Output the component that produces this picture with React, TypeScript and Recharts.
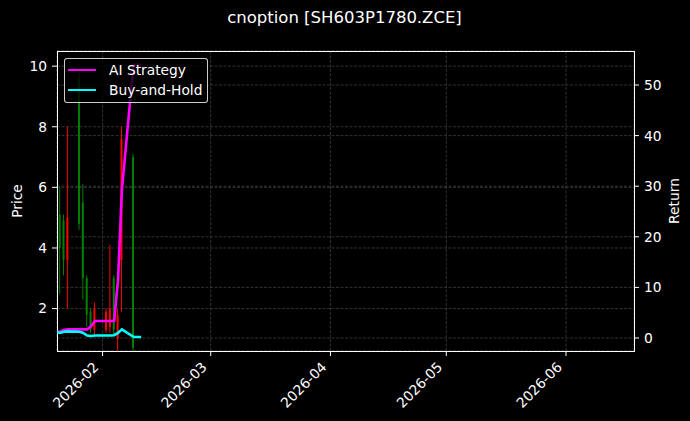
import React from 'react';
import {
  ComposedChart,
  Bar,
  Line,
  XAxis,
  YAxis,
  CartesianGrid,
  Legend,
  ReferenceArea,
} from 'recharts';

// trading days and daily OHLC of the option (null = no candle drawn)
const tradeDates = [
  '2026-01-20', '2026-01-21', '2026-01-22', '2026-01-23', '2026-01-26',
  '2026-01-27', '2026-01-28', '2026-01-29', '2026-01-30', '2026-02-02',
  '2026-02-03', '2026-02-04', '2026-02-05', '2026-02-06', '2026-02-09',
  '2026-02-10', '2026-02-11',
];
const opens = [null, 5.1, 4.9, 3.6, 9.6, 5.5, 3.0, 1.9, 1.3, 1.3, 1.4, 3.0, 1.0, 3.6, 7.0, null, null];
const highs = [null, 6.0, 5.1, 8.0, 10.0, 6.1, 3.1, 2.0, 2.2, 2.0, 4.1, 3.1, 2.0, 8.0, 7.1, null, null];
const lows = [null, 2.5, 3.1, 2.0, 4.6, 2.3, 1.4, 1.2, 1.1, 1.2, 1.2, 1.1, 0.6, 1.9, 0.5, null, null];
const closes = [null, 4.0, 3.6, 5.0, 4.8, 3.0, 1.8, 1.3, 2.0, 1.9, 2.0, 1.3, 1.8, 7.6, 0.7, null, null];

// cumulative return series (right axis)
const aiStrategy = [1.1, 1.3, 1.6, 1.7, 1.7, 1.7, 1.7, 2.3, 3.35, 3.35, 3.35, 3.35, 11.5, 29.2, 54.0, 54.0, 54.0];
const buyAndHold = [1.2, 1.0, 1.25, 1.3, 1.25, 1.0, 0.5, 0.4, 0.5, 0.5, 0.5, 0.55, 1.0, 1.7, 0.25, 0.2, 0.2];

const monthTicks = ['2026-02-01', '2026-03-01', '2026-04-01', '2026-05-01', '2026-06-01'];
const priceTicks = [2, 4, 6, 8, 10];
const returnTicks = [0, 10, 20, 30, 40, 50];

const DAY = 86400000;
const toTime = (s: string) => Date.parse(s + 'T00:00:00Z');
const xDomain = [toTime('2026-01-20') + 0.2 * DAY, toTime('2026-06-18') + 0.6 * DAY];

const data = tradeDates.map((d, i) => ({
  t: toTime(d),
  range: highs[i] == null ? null : [lows[i], highs[i]],
  open: opens[i],
  high: highs[i],
  low: lows[i],
  close: closes[i],
  ai: aiStrategy[i],
  bh: buyAndHold[i],
}));

const FONT = '"DejaVu Sans", sans-serif';
const GRID = '#3d3d3d';

const Candle = (props: any) => {
  const { x, y, width, height, payload } = props;
  if (!payload || payload.high == null || !height) return null;
  const { open, close, high, low } = payload;
  const ppu = height / (high - low);
  const cx = x + width / 2;
  const top = y + (high - Math.max(open, close)) * ppu;
  const bottom = y + (high - Math.min(open, close)) * ppu;
  const color = close >= open ? '#ff0000' : '#008000';
  return (
    <g>
      <line x1={cx} x2={cx} y1={y} y2={y + height} stroke={color} strokeWidth={1} />
      <rect x={cx - 1} y={top} width={2} height={Math.max(bottom - top, 1)} fill={color} />
    </g>
  );
};

const DateTick = (props: any) => {
  const { x, y, payload } = props;
  const d = new Date(payload.value);
  const label = `${d.getUTCFullYear()}-${String(d.getUTCMonth() + 1).padStart(2, '0')}`;
  return (
    <g transform={`translate(${x - 10},${y + 3}) rotate(-45)`}>
      <text textAnchor="end" dy="0.71em" fill="#ffffff" fontSize={13.8} fontFamily={FONT}>
        {label}
      </text>
    </g>
  );
};

const AxisTitle = ({ viewBox, text, offsetX }: any) => {
  if (!viewBox) return null;
  const cx = viewBox.x + offsetX;
  const cy = viewBox.y + viewBox.height / 2;
  return (
    <text
      x={cx}
      y={cy}
      transform={`rotate(-90, ${cx}, ${cy})`}
      textAnchor="middle"
      dominantBaseline="central"
      fill="#ffffff"
      fontSize={13.8}
      fontFamily={FONT}
    >
      {text}
    </text>
  );
};

const LegendBox = ({ payload }: any) => (
  <div
    style={{
      background: 'rgba(0,0,0,0.8)',
      border: '1px solid rgba(255,255,255,0.8)',
      borderRadius: 3,
      padding: '1px 5px 2px 3px',
      fontFamily: FONT,
      fontSize: 13.8,
      color: '#ffffff',
    }}
  >
    {(payload || [])
      .filter((p: any) => p.type !== 'none')
      .map((p: any) => (
        <div key={p.value} style={{ display: 'flex', alignItems: 'center', height: 20 }}>
          <span style={{ display: 'inline-block', width: 28, height: 2.8, background: p.color, marginRight: 13 }} />
          <span>{p.value}</span>
        </div>
      ))}
  </div>
);

export default function App() {
  return (
    <div style={{ position: 'absolute', left: 0, top: 0, width: 690, height: 421, background: '#000000' }}>
      <div
        style={{
          position: 'absolute',
          left: 0,
          top: 10,
          width: 689,
          textAlign: 'center',
          color: '#ffffff',
          fontFamily: FONT,
          fontSize: 16.5,
          lineHeight: '16.5px',
        }}
      >
        cnoption [SH603P1780.ZCE]
      </div>
      <ComposedChart
        width={690}
        height={421}
        data={data}
        margin={{ top: 51, right: 0, bottom: 0, left: 0 }}
      >
        <CartesianGrid
          yAxisId="price"
          stroke={GRID}
          strokeWidth={0.8}
          strokeDasharray="3 1.5"
        />
        <CartesianGrid
          yAxisId="ret"
          vertical={false}
          stroke={GRID}
          strokeWidth={0.8}
          strokeDasharray="3 1.5"
        />
        <XAxis
          dataKey="t"
          type="number"
          domain={xDomain}
          allowDataOverflow
          ticks={monthTicks.map(toTime)}
          tick={<DateTick />}
          height={70}
          axisLine={false}
          tickLine={{ stroke: '#ffffff' }}
          tickSize={5}
          interval={0}
        />
        <YAxis
          yAxisId="price"
          orientation="left"
          type="number"
          domain={[0.6, 10.5]}
          allowDataOverflow
          ticks={priceTicks}
          width={57}
          axisLine={false}
          tickLine={{ stroke: '#ffffff' }}
          tickSize={5}
          tickMargin={5}
          tick={{ fill: '#ffffff', fontSize: 13.8, fontFamily: FONT }}
          label={<AxisTitle text="Price" offsetX={17} />}
        />
        <YAxis
          yAxisId="ret"
          orientation="right"
          type="number"
          domain={[-2.57, 56.72]}
          allowDataOverflow
          ticks={returnTicks}
          width={56}
          axisLine={false}
          tickLine={{ stroke: '#ffffff' }}
          tickSize={5}
          tickMargin={5}
          tick={{ fill: '#ffffff', fontSize: 13.8, fontFamily: FONT }}
          label={<AxisTitle text="Return" offsetX={40} />}
        />
        <Bar
          yAxisId="price"
          dataKey="range"
          barSize={3}
          shape={<Candle />}
          legendType="none"
          isAnimationActive={false}
        />
        <Line
          yAxisId="ret"
          type="linear"
          dataKey="ai"
          name="AI Strategy"
          stroke="#ff00ff"
          strokeWidth={2.6}
          dot={false}
          connectNulls
          isAnimationActive={false}
        />
        <Line
          yAxisId="ret"
          type="linear"
          dataKey="bh"
          name="Buy-and-Hold"
          stroke="#00ffff"
          strokeWidth={2.6}
          dot={false}
          connectNulls
          isAnimationActive={false}
        />
        <ReferenceArea
          yAxisId="price"
          x1={xDomain[0]}
          x2={xDomain[1]}
          y1={0.6}
          y2={10.5}
          fill="none"
          fillOpacity={0}
          stroke="#ffffff"
          strokeOpacity={1}
          strokeWidth={1}
          shapeRendering="crispEdges"
          ifOverflow="visible"
        />
        <Legend
          layout="vertical"
          align="center"
          verticalAlign="middle"
          content={<LegendBox />}
          wrapperStyle={{ left: 64, top: 58, width: 'auto' }}
        />
      </ComposedChart>
    </div>
  );
}
